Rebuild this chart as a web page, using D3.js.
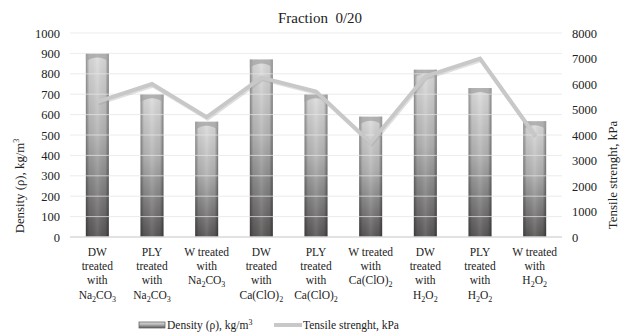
<!DOCTYPE html>
<html>
<head>
<meta charset="utf-8">
<script src="https://cdn.jsdelivr.net/npm/d3@7"></script>
<style>
  body { margin: 0; background: #fff; }
  svg text { font-family: "Liberation Serif", "Times New Roman", serif; fill: #222; }
</style>
</head>
<body>
<div id="chart"></div>
<script>
(() => {

  // "|_x" marks a subscript piece
  let categories = [
    ["DW", "treated", "with", "Na|_2|CO|_3"],
    ["PLY", "treated", "with", "Na|_2|CO|_3"],
    ["W treated", "with", "Na|_2|CO|_3"],
    ["DW", "treated", "with", "Ca(ClO)|_2"],
    ["PLY", "treated", "with", "Ca(ClO)|_2"],
    ["W treated", "with", "Ca(ClO)|_2"],
    ["DW", "treated", "with", "H|_2|O|_2"],
    ["PLY", "treated", "with", "H|_2|O|_2"],
    ["W treated", "with", "H|_2|O|_2"]
  ]
  let density = [900, 700, 565, 870, 700, 590, 820, 730, 568]
  let tensile = [5300, 6000, 4700, 6250, 5700, 3700, 6300, 7000, 4000]
  let leftTicks = [0, 100, 200, 300, 400, 500, 600, 700, 800, 900, 1000]
  let rightTicks = [0, 1000, 2000, 3000, 4000, 5000, 6000, 7000, 8000]

  let W = 628, H = 332
  let margin = {top: 33, right: 66, bottom: 95, left: 70}
  let serif = "'Liberation Serif', 'Times New Roman', serif"

  let svg = d3.select("#chart")
  .append("svg")
  .attr("width", W)
  .attr("height", H)
  .attr("font-family", serif)

  let defs = svg.append("defs")
  let vg = defs.append("linearGradient").attr("id", "barV")
  .attr("x1", 0).attr("y1", 0).attr("x2", 0).attr("y2", 1)
  vg.append("stop").attr("offset", "0%").attr("stop-color", "#dedede")
  vg.append("stop").attr("offset", "45%").attr("stop-color", "#b2b2b2")
  vg.append("stop").attr("offset", "100%").attr("stop-color", "#585555")
  let hg = defs.append("linearGradient").attr("id", "barH")
  .attr("x1", 0).attr("y1", 0).attr("x2", 1).attr("y2", 0)
  hg.append("stop").attr("offset", "0%").attr("stop-color", "#000").attr("stop-opacity", 0.35)
  hg.append("stop").attr("offset", "15%").attr("stop-color", "#000").attr("stop-opacity", 0.05)
  hg.append("stop").attr("offset", "50%").attr("stop-color", "#fff").attr("stop-opacity", 0.1)
  hg.append("stop").attr("offset", "85%").attr("stop-color", "#000").attr("stop-opacity", 0.05)
  hg.append("stop").attr("offset", "100%").attr("stop-color", "#000").attr("stop-opacity", 0.4)

  let x = d3.scaleBand()
  .domain(d3.range(categories.length))
  .range([margin.left, W - margin.right])
  .paddingInner(0.58)
  .paddingOuter(0.29)

  let yL = d3.scaleLinear().domain([0, 1000]).range([H - margin.bottom, margin.top])
  let yR = d3.scaleLinear().domain([0, 8000]).range([H - margin.bottom, margin.top])

  // Bars
  let bars = svg.selectAll(".bar").data(density).enter().append("g")
  bars.append("rect")
  .attr("x", (d, i) => x(i))
  .attr("y", d => yL(d))
  .attr("width", x.bandwidth())
  .attr("height", d => yL(0) - yL(d))
  .attr("fill", "url(#barV)")
  bars.append("rect")
  .attr("x", (d, i) => x(i))
  .attr("y", d => yL(d))
  .attr("width", x.bandwidth())
  .attr("height", d => yL(0) - yL(d))
  .attr("fill", "url(#barH)")
  // cap "horns" at top of each bar
  bars.append("path")
  .attr("d", (d, i) => {
    let x0 = x(i), x1 = x(i) + x.bandwidth(), t = yL(d)
    return `M${x0},${t}H${x1}V${t + 8}Q${(x0 + x1) / 2},${t} ${x0},${t + 8}Z`
  })
  .attr("fill", "#9f9f9f")
  .attr("opacity", 0.7)

  // Gridlines (drawn over bars, light)
  svg.append("g")
  .selectAll("line")
  .data(leftTicks)
  .enter().append("line")
  .attr("x1", margin.left)
  .attr("x2", W - margin.right)
  .attr("y1", d => yL(d))
  .attr("y2", d => yL(d))
  .attr("stroke", d => d === 0 ? "#d9d9d9" : "#e6e6e6")
  .attr("stroke-opacity", d => d === 0 ? 1 : 0.75)
  .attr("stroke-width", d => d === 0 ? 1.5 : 1)

  // Tensile line
  let line = d3.line()
  .x((d, i) => x(i) + x.bandwidth() / 2)
  .y(d => yR(d))
  svg.append("path")
  .datum(tensile)
  .attr("d", line)
  .attr("fill", "none")
  .attr("stroke", "#999")
  .attr("stroke-opacity", 0.3)
  .attr("stroke-width", 4)
  .attr("transform", "translate(1,1.5)")
  svg.append("path")
  .datum(tensile)
  .attr("d", line)
  .attr("fill", "none")
  .attr("stroke", "#c8c8c8")
  .attr("stroke-width", 4)

  // Left axis
  svg.append("g")
  .attr("transform", "translate(" + (margin.left - 2) + ",0)")
  .call(d3.axisLeft(yL).tickValues(leftTicks).tickFormat(d3.format("d")).tickSize(0).tickPadding(8))
  .attr("font-family", serif)
  .attr("font-size", 12.5)
  .call(g => g.select(".domain").remove())

  // Right axis
  svg.append("g")
  .attr("transform", "translate(" + (W - margin.right + 2) + ",0)")
  .call(d3.axisRight(yR).tickValues(rightTicks).tickFormat(d3.format("d")).tickSize(0).tickPadding(8))
  .attr("font-family", serif)
  .attr("font-size", 12.5)
  .call(g => g.select(".domain").remove())

  // Category labels
  let writeRich = (sel, str) => {
    str.split("|").forEach((p, k) => {
      if (p[0] === "_") {
        sel.append("tspan").text(p.slice(1)).attr("font-size", "8px").attr("dy", 3)
      } else {
        let t = sel.append("tspan").text(p)
        if (k > 0) t.attr("dy", -3)
      }
    })
  }
  let lab = svg.append("g")
  categories.forEach((lines, i) => {
    lines.forEach((ln, j) => {
      let t = lab.append("text")
      .attr("x", x(i) + x.bandwidth() / 2)
      .attr("y", 256 + j * 14.2)
      .attr("text-anchor", "middle")
      .attr("font-size", 11.5)
      writeRich(t, ln)
    })
  })

  // Title
  svg.append("text")
  .attr("x", 320)
  .attr("y", 23)
  .attr("text-anchor", "middle")
  .attr("font-size", 15)
  .attr("xml:space", "preserve")
  .text("Fraction  0/20")

  // Axis titles
  let lt = svg.append("text")
  .attr("transform", "translate(24,186) rotate(-90)")
  .attr("text-anchor", "middle")
  .attr("font-size", 12.8)
  lt.append("tspan").text("Density (ρ), kg/m")
  lt.append("tspan").text("3").attr("font-size", "8px").attr("dy", -5)

  svg.append("text")
  .attr("transform", "translate(617,175) rotate(-90)")
  .attr("text-anchor", "middle")
  .attr("font-size", 13)
  .text("Tensile strenght, kPa")

  // Legend
  let leg = svg.append("g")
  leg.append("rect")
  .attr("x", 139).attr("y", 322).attr("width", 26).attr("height", 6)
  .attr("fill", "url(#barV)")
  leg.append("rect")
  .attr("x", 139).attr("y", 322).attr("width", 26).attr("height", 6)
  .attr("fill", "none").attr("stroke", "#666").attr("stroke-width", 0.8)
  let l1 = leg.append("text").attr("x", 167).attr("y", 329).attr("font-size", 11.5)
  l1.append("tspan").text("Density (ρ), kg/m")
  l1.append("tspan").text("3").attr("font-size", "8px").attr("dy", -4)

  leg.append("line")
  .attr("x1", 274).attr("x2", 302).attr("y1", 325).attr("y2", 325)
  .attr("stroke", "#c8c8c8").attr("stroke-width", 4)
  leg.append("text").attr("x", 303).attr("y", 329).attr("font-size", 11.5)
  .text("Tensile strenght, kPa")

})()
</script>
</body>
</html>
